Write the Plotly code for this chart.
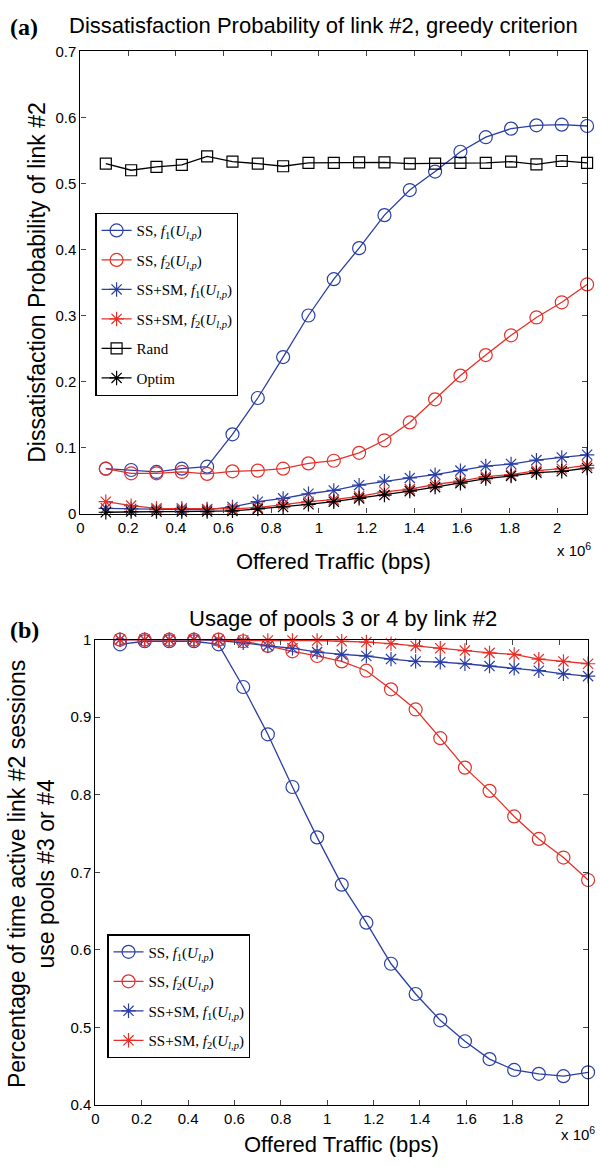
import plotly.graph_objects as go

# ---------------- data ----------------
x_traffic = [106250 * i for i in range(1, 21)]
x_ticks = [0, 200000, 400000, 600000, 800000, 1000000, 1200000, 1400000, 1600000, 1800000, 2000000]
x_ticklabels = ["0", "0.2", "0.4", "0.6", "0.8", "1", "1.2", "1.4", "1.6", "1.8", "2"]

# panel (a): dissatisfaction probability of link #2
a_ss_f1 = [0.068, 0.066, 0.063, 0.068, 0.071, 0.120, 0.175, 0.237, 0.300, 0.355,
           0.402, 0.452, 0.490, 0.518, 0.548, 0.570, 0.583, 0.588, 0.589, 0.587]
a_ss_f2 = [0.068, 0.061, 0.061, 0.063, 0.060, 0.064, 0.065, 0.068, 0.076, 0.080,
           0.092, 0.111, 0.138, 0.173, 0.209, 0.240, 0.270, 0.297, 0.320, 0.347]
a_sssm_f1 = [0.008, 0.007, 0.006, 0.006, 0.006, 0.010, 0.018, 0.023, 0.030, 0.035,
             0.043, 0.049, 0.054, 0.059, 0.065, 0.072, 0.075, 0.081, 0.085, 0.089]
a_sssm_f2 = [0.018, 0.012, 0.008, 0.008, 0.007, 0.007, 0.009, 0.014, 0.018, 0.021,
             0.026, 0.033, 0.037, 0.044, 0.049, 0.056, 0.059, 0.065, 0.068, 0.073]
a_rand = [0.530, 0.520, 0.525, 0.528, 0.541, 0.533, 0.530, 0.526, 0.531, 0.531,
          0.532, 0.532, 0.530, 0.530, 0.531, 0.531, 0.533, 0.529, 0.534, 0.531]
a_optim = [0.002, 0.003, 0.003, 0.003, 0.003, 0.004, 0.007, 0.010, 0.014, 0.018,
           0.023, 0.028, 0.034, 0.040, 0.046, 0.053, 0.057, 0.062, 0.064, 0.069]
a_yticks = [0, 0.1, 0.2, 0.3, 0.4, 0.5, 0.6, 0.7]
a_yticklabels = ["0", "0.1", "0.2", "0.3", "0.4", "0.5", "0.6", "0.7"]

# panel (b): usage of pools 3 or 4 by link #2
b_ss_f1 = [0.994, 0.998, 0.998, 0.998, 0.994, 0.939, 0.878, 0.810, 0.745, 0.684,
           0.635, 0.582, 0.543, 0.509, 0.482, 0.459, 0.445, 0.440, 0.437, 0.442]
b_ss_f2 = [1.000, 1.000, 1.000, 1.000, 1.000, 0.998, 0.992, 0.985, 0.979, 0.972,
           0.960, 0.936, 0.910, 0.873, 0.835, 0.805, 0.772, 0.743, 0.719, 0.690]
b_sssm_f1 = [1.000, 1.000, 1.000, 1.000, 0.999, 0.996, 0.992, 0.989, 0.984, 0.981,
             0.979, 0.975, 0.972, 0.971, 0.969, 0.966, 0.963, 0.960, 0.956, 0.953]
b_sssm_f2 = [1.000, 1.000, 1.000, 1.000, 1.000, 0.999, 0.999, 0.999, 0.999, 0.998,
             0.997, 0.995, 0.992, 0.989, 0.986, 0.983, 0.981, 0.975, 0.972, 0.969]
b_yticks = [0.4, 0.5, 0.6, 0.7, 0.8, 0.9, 1.0]
b_yticklabels = ["0.4", "0.5", "0.6", "0.7", "0.8", "0.9", "1"]

names = [
    "SS, <i>f</i><sub>1</sub>(<i>U</i><sub><i>l,p</i></sub>)",
    "SS, <i>f</i><sub>2</sub>(<i>U</i><sub><i>l,p</i></sub>)",
    "SS+SM, <i>f</i><sub>1</sub>(<i>U</i><sub><i>l,p</i></sub>)",
    "SS+SM, <i>f</i><sub>2</sub>(<i>U</i><sub><i>l,p</i></sub>)",
    "Rand",
    "Optim",
]

BLUE = "#2a3fa6"
RED = "#e5302a"
BLACK = "#000000"

W, H = 600, 1170


def px_x(p):
    return p / W


def px_y(p):
    return 1 - p / H


fig = go.Figure()


def add(xa, ya, y, name, color, symbol, size, legend, group):
    fig.add_trace(go.Scatter(
        x=x_traffic, y=y, name=name, mode="lines+markers",
        xaxis=xa, yaxis=ya, legend=legend, legendgroup=group,
        line=dict(color=color, width=1.3),
        marker=dict(symbol=symbol, size=size, color=color,
                    line=dict(color=color, width=1.2)),
        cliponaxis=False,
    ))


# panel (a)
add("x", "y", a_ss_f1, names[0], BLUE, "circle-open", 13, "legend", "a1")
add("x", "y", a_ss_f2, names[1], RED, "circle-open", 13, "legend", "a2")
add("x", "y", a_sssm_f1, names[2], BLUE, "asterisk-open", 12, "legend", "a3")
add("x", "y", a_sssm_f2, names[3], RED, "asterisk-open", 12, "legend", "a4")
add("x", "y", a_rand, names[4], BLACK, "square-open", 11, "legend", "a5")
add("x", "y", a_optim, names[5], BLACK, "asterisk-open", 12, "legend", "a6")

# panel (b)
add("x2", "y2", b_ss_f1, names[0], BLUE, "circle-open", 13, "legend2", "b1")
add("x2", "y2", b_ss_f2, names[1], RED, "circle-open", 13, "legend2", "b2")
add("x2", "y2", b_sssm_f1, names[2], BLUE, "asterisk-open", 12, "legend2", "b3")
add("x2", "y2", b_sssm_f2, names[3], RED, "asterisk-open", 12, "legend2", "b4")

tickfont = dict(family="Liberation Sans, Arial", size=15, color="black")
axis_common = dict(showline=True, linecolor="black", linewidth=1.2, mirror="allticks",
                   ticks="inside", ticklen=5, tickcolor="#444", tickwidth=1,
                   showgrid=False, zeroline=False, tickfont=tickfont)

legend_common = dict(
    font=dict(family="Liberation Serif, Times New Roman", size=15, color="black"),
    bgcolor="white", bordercolor="black", borderwidth=1.2,
    xanchor="left", yanchor="top", tracegroupgap=7, traceorder="grouped",
    itemwidth=30,
)

fig.update_layout(
    width=W, height=H,
    margin=dict(l=0, r=0, t=0, b=0),
    plot_bgcolor="white", paper_bgcolor="white",
    showlegend=True,
    xaxis=dict(domain=[px_x(77), px_x(587)], range=[0, 2125000], anchor="y",
               tickvals=x_ticks, ticktext=x_ticklabels, **axis_common),
    yaxis=dict(domain=[px_y(512), px_y(43)], range=[0, 0.7], anchor="x",
               tickvals=a_yticks, ticktext=a_yticklabels, **axis_common),
    xaxis2=dict(domain=[px_x(92), px_x(588)], range=[0, 2125000], anchor="y2",
                tickvals=x_ticks, ticktext=x_ticklabels, **axis_common),
    yaxis2=dict(domain=[px_y(1112), px_y(640)], range=[0.4, 1.0], anchor="x2",
                tickvals=b_yticks, ticktext=b_yticklabels, **axis_common),
    legend=dict(x=px_x(92), y=px_y(207), **legend_common),
    legend2=dict(x=px_x(104), y=px_y(939), **legend_common),
)

title_font = dict(family="Liberation Sans, Arial", size=22, color="black")
label_font = dict(family="Liberation Sans, Arial", size=22, color="black")
vlabel_font = dict(family="Liberation Sans, Arial", size=23, color="black")
panel_font = dict(family="Liberation Serif, Times New Roman", size=24, color="black")
exp_font = dict(family="Liberation Sans, Arial", size=15, color="black")

ann = [
    dict(text="<b>(a)</b>", x=px_x(4), y=px_y(18), xanchor="left", yanchor="middle", font=panel_font),
    dict(text="Dissatisfaction Probability of link #2, greedy criterion", x=px_x(322), y=px_y(17),
         xanchor="center", yanchor="middle", font=title_font),
    dict(text="<b>(b)</b>", x=px_x(4), y=px_y(630), xanchor="left", yanchor="middle", font=panel_font),
    dict(text="Usage of pools 3 or 4 by link #2", x=px_x(341), y=px_y(618),
         xanchor="center", yanchor="middle", font=title_font),
    dict(text="Offered Traffic (bps)", x=px_x(332), y=px_y(561), xanchor="center", yanchor="middle",
         font=label_font),
    dict(text="Offered Traffic (bps)", x=px_x(340), y=px_y(1152), xanchor="center", yanchor="middle",
         font=label_font),
    dict(text="Dissatisfaction Probability of link #2", x=px_x(33), y=px_y(277), textangle=-90,
         xanchor="center", yanchor="middle", font=vlabel_font),
    dict(text="Percentage of time active link #2 sessions<br>use pools #3 or #4", x=px_x(28), y=px_y(878),
         textangle=-90, xanchor="center", yanchor="middle", font=vlabel_font),
    dict(text="x 10<sup>6</sup>", x=px_x(574), y=px_y(548), xanchor="center", yanchor="middle",
         font=exp_font),
    dict(text="x 10<sup>6</sup>", x=px_x(578), y=px_y(1141), xanchor="center", yanchor="middle",
         font=exp_font),
]
for a in ann:
    a.update(xref="paper", yref="paper", showarrow=False)
fig.update_layout(annotations=ann)

fig.write_html(
    "out.html",
    config={"displayModeBar": False},
    post_script="document.body.style.margin='0';document.body.style.padding='0';"
                "document.body.style.overflow='hidden';",
)
